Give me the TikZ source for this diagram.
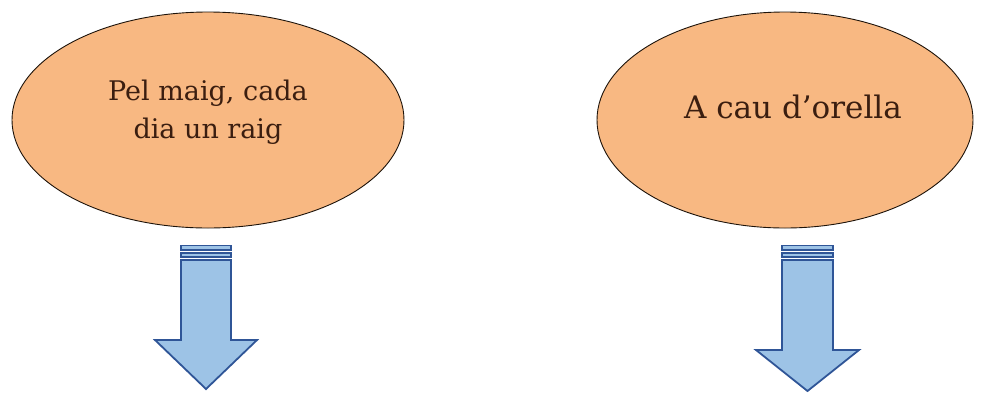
\documentclass[tikz,border=0pt]{standalone}
\usepackage{fontspec}
\setmainfont{DejaVu Serif}
\usetikzlibrary{shapes.geometric}
\definecolor{ovalfill}{HTML}{F8B882}
\definecolor{ovaltext}{HTML}{3B1E10}
\definecolor{arrfill}{HTML}{9DC3E6}
\definecolor{arrline}{HTML}{2F5597}
\begin{document}
\begin{tikzpicture}[x=1pt,y=-1pt,
  oval/.style={ellipse,draw=black!85!brown,line width=0.9pt,fill=ovalfill,text=ovaltext,inner sep=0pt},
  arrbody/.style={draw=arrline,fill=arrfill,line width=1.8pt,line join=miter},
  stripe/.style={draw=arrline,fill=arrfill,line width=1.6pt}]
\useasboundingbox (0,0) rectangle (982,392);
\node[oval,minimum width=392,minimum height=216] (o1) at (208,120) {};
\node[text=ovaltext,align=center,font=\fontsize{27}{38}\selectfont] (t1) at (208,112) {Pel maig, cada\\dia un raig};
\node[oval,minimum width=376,minimum height=216] (o2) at (785,120) {};
\node[text=ovaltext,anchor=base,inner sep=0pt,font=\fontsize{31}{36}\selectfont] (t2) at (793,118) {A cau d'orella};
% arrow 1
\draw[stripe] (181,245.5) rectangle (231,250);
\draw[stripe] (181,253) rectangle (231,257);
\draw[arrbody] (181,260) -- (231,260) -- (231,340) -- (257,340) -- (206,389) -- (155,340) -- (181,340) -- cycle;
% arrow 2
\draw[stripe] (782,245.5) rectangle (833,250);
\draw[stripe] (782,253) rectangle (833,257);
\draw[arrbody] (782,260) -- (833,260) -- (833,350) -- (859,350) -- (807.5,391) -- (756,350) -- (782,350) -- cycle;
\end{tikzpicture}
\end{document}
